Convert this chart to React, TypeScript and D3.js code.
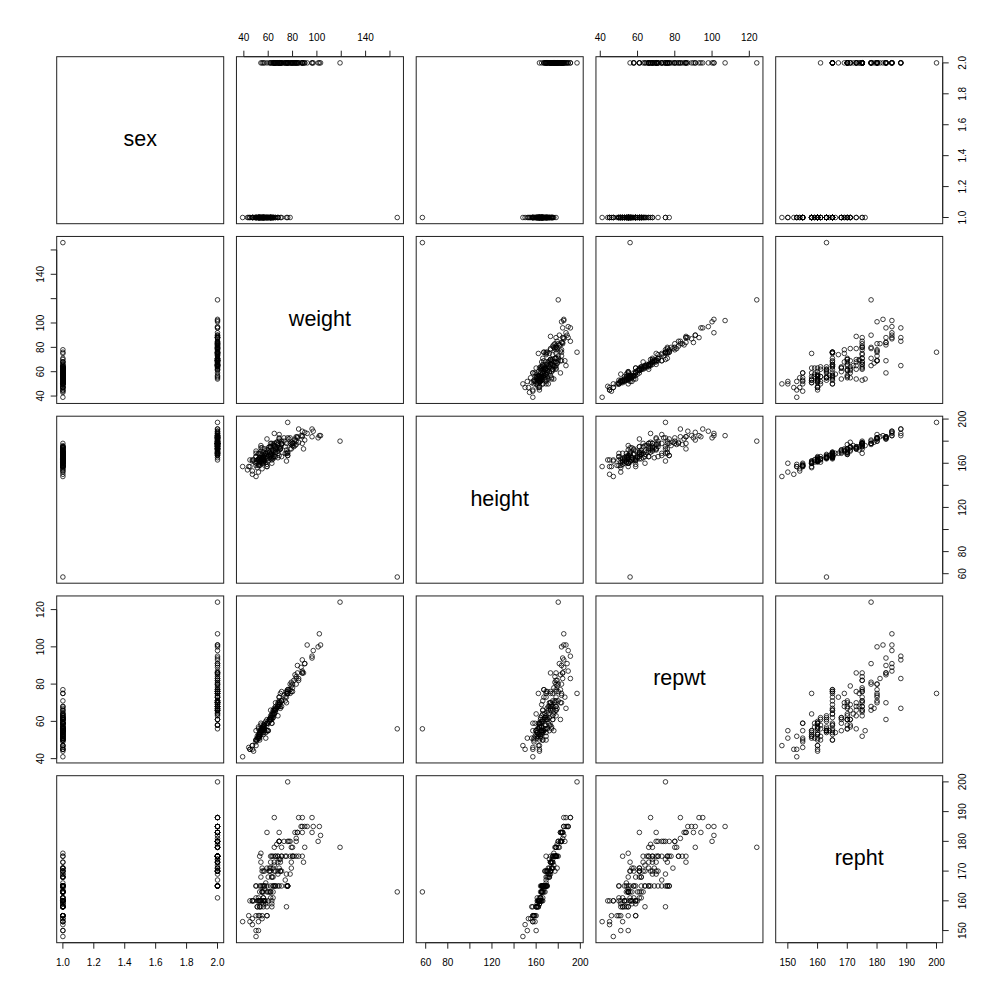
import * as d3 from "d3";

const N = null;

// Davis data: sex (1 = F, 2 = M), measured and reported weight / height
const sex = [
  2,1,1,2,1,2,2,2,2,2, 2,1,1,1,1,1,2,1,2,1, 2,1,2,2,1,1,1,1,1,2, 1,2,2,1,1,2,1,2,2,2,
  1,2,1,2,2,1,2,1,1,1, 2,1,2,2,2,2,1,2,2,2, 2,2,2,1,2,1,1,1,1,2, 1,2,1,1,1,1,1,1,2,2,
  1,2,1,1,1,2,2,1,1,1, 2,1,2,2,2,1,2,1,1,1, 1,2,1,1,1,1,1,1,1,1, 2,2,1,2,1,1,2,2,2,2,
  2,2,1,1,2,1,1,1,1,1, 1,2,1,1,2,1,1,1,2,2, 2,1,1,1,2,1,1,1,1,2, 1,1,1,1,1,2,2,1,1,1,
  1,1,1,1,2,1,1,1,2,1, 2,1,2,2,2,2,1,2,2,2, 2,1,2,1,2,1,1,1,2,1, 2,2,1,1,1,2,2,2,2,2,
];
const weight = [
  77,58,53,68,59,76,76,69,71,65, 70,166,51,64,52,65,92,62,76,61, 119,61,65,66,54,50,63,58,39,101,
  71,75,79,52,68,64,56,69,88,65, 54,80,63,78,85,54,73,49,54,75, 82,56,74,102,64,65,66,73,75,57,
  68,71,71,78,97,60,64,64,52,80, 62,66,55,56,50,50,50,63,69,69, 61,55,53,60,56,59,62,53,57,57,
  70,56,84,69,88,56,103,50,52,55, 55,63,47,45,62,53,52,57,64,59, 84,79,55,67,76,62,83,96,75,65,
  78,69,68,55,67,52,47,45,68,44, 62,87,56,50,83,53,64,62,90,85, 66,52,53,54,64,55,55,59,70,88,
  57,47,47,55,48,54,69,59,58,57, 51,54,53,59,56,59,63,66,96,53, 76,54,61,82,62,71,60,66,81,68,
  80,43,82,63,70,56,60,58,76,50, 88,89,59,51,62,74,83,81,90,79,
];
const height = [
  182,161,161,177,157,170,167,186,178,171, 175,57,161,168,163,166,187,168,197,175,
  180,170,175,173,171,166,169,166,157,183, 166,178,173,164,169,176,166,174,178,187,
  164,178,163,183,179,160,180,161,174,162, 182,165,169,185,177,176,170,183,172,173,
  165,177,180,173,189,162,165,164,158,178, 175,173,165,163,166,171,160,160,182,183,
  165,168,169,167,170,182,178,165,163,162, 173,161,184,180,189,165,185,169,159,155,
  164,178,163,163,175,164,152,167,166,166, 183,179,174,179,167,168,184,184,169,178,
  178,167,178,165,179,169,153,157,171,157, 166,185,160,148,177,162,172,167,188,191,
  175,163,165,176,171,160,165,157,173,184, 168,162,150,162,163,169,172,170,169,167,
  163,161,162,172,163,159,170,166,191,158, 169,163,170,176,168,178,174,170,178,174,
  176,154,181,165,173,162,172,169,183,158, 185,173,164,156,164,175,180,175,181,177,
];
const repwt = [
  77,51,54,70,59,76,77,73,71,64, 75,56,52,64,57,66,101,62,75,61, 124,61,66,70,59,50,61,60,41,100,
  71,73,76,52,63,65,54,69,86,67, 53,80,59,80,82,55,N,N,56,75, 85,57,73,107,N,64,65,74,70,58,
  69,71,76,75,98,59,63,62,51,76, 61,66,54,57,50,N,55,64,70,70, 60,56,52,55,56,61,66,53,59,56,
  68,56,86,71,87,57,101,50,52,N, 55,63,47,45,63,51,51,55,64,55, 90,79,57,67,77,62,83,94,76,66,
  77,73,68,55,N,56,N,45,68,46, 61,89,53,47,84,53,62,N,91,83, 68,53,55,55,66,55,55,55,67,86,
  58,47,45,N,44,58,68,N,N,56, 50,54,52,58,58,59,62,66,95,50, 75,N,61,N,61,68,N,67,82,68,
  78,N,N,59,70,56,55,54,75,49, 93,86,59,51,61,71,80,N,91,81,
];
const repht = [
  180,159,158,175,155,165,165,180,175,170, 174,163,158,165,160,165,185,165,200,171,
  178,170,173,170,168,165,168,160,153,180, 165,175,173,161,170,175,165,171,175,188,
  160,178,159,180,175,158,N,N,173,158, 183,163,167,185,N,172,N,180,169,170,
  165,170,175,169,185,160,163,161,155,175, 171,175,163,159,161,N,150,158,180,183,
  163,170,175,163,170,183,175,165,160,160, 170,161,183,180,185,160,182,165,153,154,
  163,175,160,160,173,160,150,164,165,163, 183,171,171,179,165,163,181,183,165,178,
  175,165,175,163,N,N,154,153,169,155, 163,185,158,148,175,160,168,N,185,188,
  175,160,163,176,171,155,165,158,170,183, 165,160,152,N,160,165,174,N,N,165,
  160,160,158,171,161,155,168,165,188,155, 165,N,170,N,170,178,N,165,175,173,
  175,N,N,160,173,160,168,166,180,155, 188,173,165,158,161,175,180,N,178,178,
];

const varNames = ["sex", "weight", "height", "repwt", "repht"];
const columns = [sex, weight, height, repwt, repht];

// axis ticks, and the ones R kept a label for
const tickValues = [
  [1, 1.2, 1.4, 1.6, 1.8, 2],
  [40, 60, 80, 100, 120, 140, 160],
  [60, 80, 100, 120, 140, 160, 180, 200],
  [40, 60, 80, 100, 120],
  [150, 160, 170, 180, 190, 200],
];
const tickLabels = [
  [1, 1.2, 1.4, 1.6, 1.8, 2],
  [40, 60, 80, 100, 140],
  [60, 80, 120, 160, 200],
  [40, 60, 80, 100, 120],
  [150, 160, 170, 180, 190, 200],
];

const size = 1000;
const left0 = 56.7;
const step = 179.75;
const panel = 167;
const tickLen = 6;
const font = "'Liberation Sans', Arial, Helvetica, sans-serif";

export default function App() {
  const n = varNames.length;
  const pos = (k: number) => left0 + k * step;

  const domains = columns.map((col) => {
    const ext = d3.extent(col.filter((v) => v != null) as number[]) as [number, number];
    const pad = (ext[1] - ext[0]) * 0.04;
    return [ext[0] - pad, ext[1] + pad];
  });
  const xScales = domains.map((dom, k) => d3.scaleLinear().domain(dom).range([pos(k), pos(k) + panel]));
  const yScales = domains.map((dom, k) => d3.scaleLinear().domain(dom).range([pos(k) + panel, pos(k)]));
  const fmt = (k: number) => (k === 0 ? d3.format(".1f") : d3.format("d"));

  const panels: JSX.Element[] = [];
  for (let i = 0; i < n; i++) {
    for (let j = 0; j < n; j++) {
      const px = pos(j);
      const py = pos(i);
      const items: JSX.Element[] = [];
      items.push(
        <rect key="box" x={px} y={py} width={panel} height={panel} fill="none" stroke="#222" strokeWidth={1} />
      );
      if (i === j) {
        items.push(
          <text key="lab" x={px + panel / 2} y={py + panel / 2 + 6} textAnchor="middle"
            fontFamily={font} fontSize={21.5} fill="#000">{varNames[i]}</text>
        );
      } else {
        const xs = columns[j];
        const ys = columns[i];
        const sx = xScales[j];
        const sy = yScales[i];
        xs.forEach((xv, r) => {
          const yv = ys[r];
          if (xv == null || yv == null) return;
          items.push(
            <circle key={"p" + r} cx={sx(xv)} cy={sy(yv)} r={2.3} fill="none" stroke="#000" strokeWidth={0.75} />
          );
        });
      }
      panels.push(<g key={`${i}-${j}`}>{items}</g>);
    }
  }

  const axes: JSX.Element[] = [];
  for (let k = 0; k < n; k++) {
    const f = fmt(k);
    const sx = xScales[k];
    const sy = yScales[k];
    const labelled = new Set(tickLabels[k]);
    const first = tickValues[k][0];
    const last = tickValues[k][tickValues[k].length - 1];
    // horizontal axis: bottom for even columns, top for odd ones
    const bottom = k % 2 === 0;
    const edgeY = bottom ? pos(n - 1) + panel : pos(0);
    tickValues[k].forEach((t) => {
      const x = sx(t);
      axes.push(
        <line key={`hx${k}-${t}`} x1={x} x2={x} y1={edgeY} y2={bottom ? edgeY + tickLen : edgeY - tickLen}
          stroke="#222" strokeWidth={1} />
      );
      if (labelled.has(t)) {
        axes.push(
          <text key={`hl${k}-${t}`} x={x} y={bottom ? edgeY + 23 : edgeY - 16} textAnchor="middle"
            fontFamily={font} fontSize={10} fill="#000">{f(t)}</text>
        );
      }
    });
    axes.push(
      <line key={`hd${k}`} x1={sx(first)} x2={sx(last)} y1={edgeY} y2={edgeY} stroke="#222" strokeWidth={1} />
    );
    // vertical axis: right for even rows, left for odd ones
    const right = k % 2 === 0;
    const edgeX = right ? pos(n - 1) + panel : pos(0);
    tickValues[k].forEach((t) => {
      const y = sy(t);
      axes.push(
        <line key={`vx${k}-${t}`} y1={y} y2={y} x1={edgeX} x2={right ? edgeX + tickLen : edgeX - tickLen}
          stroke="#222" strokeWidth={1} />
      );
      if (labelled.has(t)) {
        const bx = right ? edgeX + 23 : edgeX - 13.2;
        axes.push(
          <text key={`vl${k}-${t}`} transform={`translate(${bx},${y}) rotate(-90)`} textAnchor="middle"
            fontFamily={font} fontSize={10} fill="#000">{f(t)}</text>
        );
      }
    });
    axes.push(
      <line key={`vd${k}`} y1={sy(first)} y2={sy(last)} x1={edgeX} x2={edgeX} stroke="#222" strokeWidth={1} />
    );
  }

  return (
    <svg width={size} height={size} viewBox={`0 0 ${size} ${size}`}
      style={{ position: "absolute", left: 0, top: 0, background: "#fff" }}>
      <rect x={0} y={0} width={size} height={size} fill="#fff" />
      {panels}
      {axes}
    </svg>
  );
}
